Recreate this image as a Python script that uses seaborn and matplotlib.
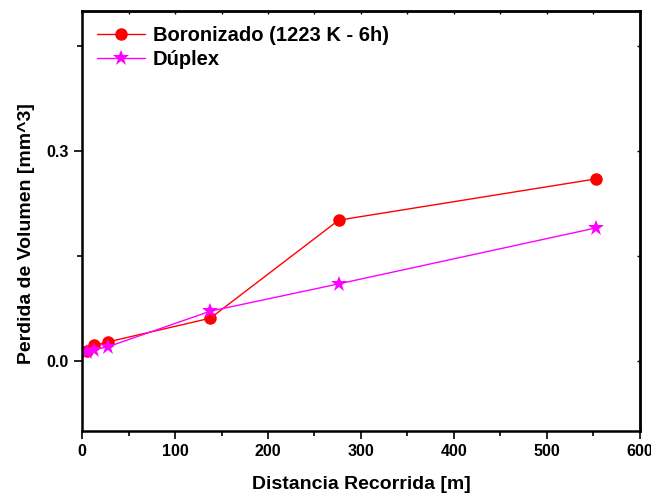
import matplotlib
matplotlib.use("Agg")
import matplotlib.pyplot as plt
import seaborn as sns
import pandas as pd
from matplotlib.ticker import MultipleLocator, FormatStrFormatter

distancia = [5, 13, 27.6, 138, 276, 553]
boronizado = [0.014, 0.022, 0.027, 0.061, 0.201, 0.260]
duplex = [0.013, 0.016, 0.020, 0.071, 0.110, 0.190]
series_names = ["Boronizado (1223 K - 6h)", "Dúplex"]

sns.set_theme(style="white")
plt.rcParams['font.family'] = ['Liberation Sans', 'DejaVu Sans']
plt.rcParams['font.weight'] = 'bold'
plt.rcParams['text.color'] = 'black'
plt.rcParams['axes.labelcolor'] = 'black'
plt.rcParams['xtick.color'] = 'black'
plt.rcParams['ytick.color'] = 'black'

df = pd.DataFrame({
    "x": distancia * 2,
    "y": boronizado + duplex,
    "serie": [series_names[0]] * len(distancia) + [series_names[1]] * len(distancia),
})

fig = plt.figure(figsize=(6.51, 4.93), dpi=100)
ax = fig.add_axes([0.126, 0.126, 0.857, 0.852])

sns.lineplot(data=df, x="x", y="y", hue="serie", style="serie",
             palette=["#ff0000", "#ff00ff"], markers=["o", "*"], dashes=False,
             markersize=9, markeredgewidth=0, linewidth=1, ax=ax, sort=False)
# star markers render smaller than circles; enlarge them
for ln in ax.lines:
    if ln.get_marker() == "*":
        ln.set_markersize(12)

ax.set_xlim(0, 600)
ax.set_ylim(-0.1, 0.5)
ax.xaxis.set_major_locator(MultipleLocator(100))
ax.xaxis.set_minor_locator(MultipleLocator(50))
ax.yaxis.set_major_locator(MultipleLocator(0.3))
ax.yaxis.set_minor_locator(MultipleLocator(0.15))
ax.yaxis.set_major_formatter(FormatStrFormatter('%.1f'))

for s in ax.spines.values():
    s.set_visible(True)
    s.set_color("black")
    s.set_linewidth(1.8)

ax.tick_params(axis='both', which='major', direction='out', length=6, width=1.2,
               labelsize=11.5, bottom=True, left=True, top=False, right=False)
ax.tick_params(axis='both', which='minor', direction='out', length=3.5, width=1.2,
               bottom=True, left=True, top=False, right=False)

# tiny inward ticks on top and right
sx = ax.secondary_xaxis('top')
sx.xaxis.set_major_locator(MultipleLocator(100))
sx.xaxis.set_minor_locator(MultipleLocator(50))
sx.tick_params(which='both', direction='in', length=2, width=1, labeltop=False)
sx.spines['top'].set_linewidth(1.8)
sy = ax.secondary_yaxis('right')
sy.yaxis.set_major_locator(MultipleLocator(0.3))
sy.yaxis.set_minor_locator(MultipleLocator(0.15))
sy.tick_params(which='both', direction='in', length=2, width=1, labelright=False)
sy.spines['right'].set_linewidth(1.8)

for lbl in ax.get_xticklabels() + ax.get_yticklabels():
    lbl.set_fontweight('bold')

ax.set_xlabel("Distancia Recorrida [m]", fontsize=14, fontweight='bold', labelpad=12)
ax.set_ylabel("Perdida de Volumen [mm^3]", fontsize=14, fontweight='bold')
ax.yaxis.set_label_coords(-0.085, 0.47)

leg = ax.legend(loc="upper left", frameon=False, fontsize=14.5, handlelength=2.4,
                bbox_to_anchor=(0.0, 1.0), borderaxespad=0.35, labelspacing=0.25,
                handletextpad=0.35)
for t in leg.get_texts():
    t.set_fontweight('bold')

fig.savefig("out.png", dpi=100)
